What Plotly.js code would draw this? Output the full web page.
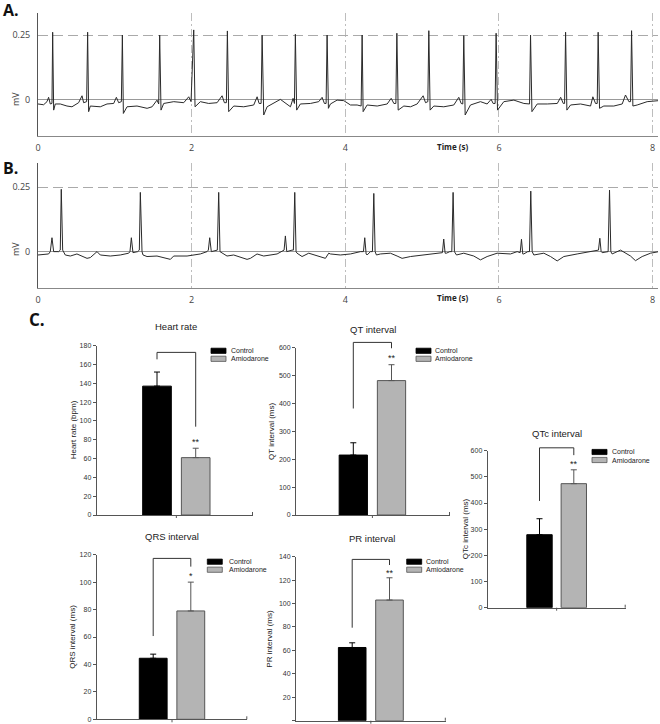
<!DOCTYPE html>
<html><head><meta charset="utf-8">
<script src="https://cdn.plot.ly/plotly-3.0.1.min.js"></script>
<style>html,body{margin:0;padding:0;background:#fff}#chart{width:660px;height:724px}</style>
</head><body><div id="chart"></div>
<script>
// ---------- DATA ----------
// Panel A: control ECG (time in s, voltage in mV)
const ecgA_t = [0.0,0.073,0.117,0.138,0.16,0.182,0.191,0.204,0.225,0.29,
0.377,0.442,0.529,0.573,0.594,0.633,0.646,0.659,0.681,0.811,
0.898,0.985,1.02,1.05,1.085,1.098,1.111,1.159,1.289,1.42,
1.485,1.549,1.571,1.584,1.601,1.636,1.767,1.897,1.962,1.992,
2.027,2.044,2.113,2.222,2.331,2.396,2.426,2.452,2.465,2.482,
2.548,2.678,2.808,2.852,2.878,2.904,2.917,2.938,2.982,3.155,
3.286,3.32,3.338,3.35,3.367,3.415,3.546,3.654,3.698,3.728,
3.75,3.763,3.78,3.806,3.893,3.98,4.067,4.154,4.206,4.219,
4.232,4.284,4.415,4.545,4.597,4.632,4.658,4.671,4.688,4.762,
4.849,4.935,5.013,5.044,5.074,5.087,5.104,5.152,5.282,5.412,
5.477,5.508,5.529,5.542,5.56,5.629,5.759,5.846,5.898,5.924,
5.95,5.963,5.981,6.063,6.194,6.324,6.398,6.411,6.429,6.498,
6.629,6.759,6.803,6.837,6.854,6.867,6.884,6.932,7.062,7.192,
7.222,7.257,7.279,7.291,7.309,7.365,7.495,7.604,7.647,7.691,
7.713,7.726,7.743,7.799,7.929,8.081];
const ecgA_mV = [-0.018,-0.021,-0.009,0.008,-0.018,-0.016,0.262,-0.042,-0.018,-0.018,
-0.026,-0.029,-0.013,0.014,-0.013,-0.009,0.262,-0.048,-0.026,-0.029,
-0.018,-0.016,0.008,-0.013,-0.009,0.251,-0.055,-0.029,-0.026,-0.035,
-0.029,-0.003,-0.018,0.251,-0.042,-0.016,-0.009,-0.013,0.010,-0.009,
0.271,-0.029,-0.009,-0.016,-0.013,0.014,-0.013,-0.013,0.267,-0.048,
-0.026,-0.029,-0.022,0.010,-0.016,-0.016,0.251,-0.061,-0.029,0.0,
-0.029,0.004,-0.016,0.254,-0.042,-0.018,-0.016,-0.009,0.008,-0.016,
-0.016,0.251,-0.035,-0.018,-0.003,-0.005,-0.022,-0.022,-0.026,0.251,
-0.048,-0.022,-0.026,-0.018,0.004,-0.016,-0.016,0.258,-0.042,-0.026,
-0.029,-0.018,0.014,-0.013,-0.009,0.268,-0.042,-0.026,-0.029,-0.022,
0.008,-0.016,-0.018,0.249,-0.061,-0.022,-0.009,-0.018,0.0,-0.016,
-0.016,0.258,-0.042,-0.009,-0.003,-0.016,-0.018,0.251,-0.048,-0.018,
-0.018,-0.016,0.008,-0.016,-0.016,0.262,-0.042,-0.022,-0.018,-0.026,
0.010,-0.016,-0.016,0.262,-0.035,-0.026,-0.026,-0.018,0.017,-0.009,
-0.009,0.268,-0.026,-0.022,-0.009,-0.005];

// Panel B: amiodarone ECG
const ecgB_t = [0.0,0.138,0.16,0.182,0.204,0.269,0.29,0.303,0.321,0.355,
0.421,0.507,0.638,0.681,0.768,0.811,0.941,1.071,1.18,1.197,
1.215,1.236,1.297,1.319,1.332,1.354,1.367,1.419,1.549,1.679,
1.723,1.766,1.94,2.113,2.2,2.217,2.235,2.256,2.308,2.334,
2.352,2.369,2.46,2.547,2.721,2.765,2.851,2.938,3.112,3.19,
3.203,3.22,3.238,3.307,3.324,3.342,3.359,3.372,3.437,3.524,
3.633,3.741,3.784,3.806,3.936,4.067,4.197,4.236,4.253,4.271,
4.284,4.327,4.353,4.371,4.388,4.405,4.457,4.587,4.674,4.739,
4.848,5.021,5.195,5.264,5.281,5.299,5.316,5.36,5.386,5.403,
5.42,5.447,5.542,5.672,5.759,5.846,5.976,6.15,6.237,6.276,
6.293,6.31,6.323,6.375,6.397,6.414,6.432,6.454,6.584,6.671,
6.758,6.844,7.018,7.191,7.278,7.295,7.313,7.33,7.343,7.4,
7.421,7.439,7.456,7.473,7.582,7.712,7.777,7.864,7.973,8.081];
const ecgB_mV = [-0.013,-0.009,0.0,0.054,0.0,0.0,0.006,0.242,0.006,-0.013,
-0.017,-0.009,-0.026,-0.023,0.0,-0.013,-0.017,-0.013,-0.006,0.0,
0.054,-0.004,0.0,0.006,0.23,0.0,-0.013,-0.019,-0.017,-0.026,
-0.03,-0.017,-0.017,-0.009,0.0,0.006,0.054,0.0,0.006,0.006,
0.23,0.0,-0.017,-0.013,-0.03,-0.026,-0.009,-0.017,-0.009,0.006,
0.006,0.061,0.0,0.006,0.006,0.23,0.0,-0.006,-0.019,-0.006,
-0.017,-0.026,-0.006,-0.009,-0.013,-0.009,0.0,0.0,0.054,-0.009,
-0.013,0.0,0.0,0.226,0.0,-0.013,-0.009,-0.006,-0.017,-0.026,
-0.019,-0.013,-0.006,-0.004,0.049,-0.006,-0.006,0.0,0.0,0.23,
0.0,-0.013,-0.006,-0.017,-0.032,-0.019,-0.006,-0.009,0.0,-0.004,
0.048,-0.009,-0.009,0.0,0.0,0.235,0.0,-0.013,-0.006,-0.019,
-0.036,-0.019,-0.009,0.0,0.006,0.006,0.052,0.0,-0.004,0.0,
0.0,0.239,0.0,-0.009,0.006,-0.017,-0.035,-0.019,-0.006,0.0];

const ecgTicks = [0, 2, 4, 6, 8];
const mvTicks = [0, 0.25];
const mvTickText = ['0', '0.25'];

// Panel C: group means and SD
const groups = ['Control', 'Amiodarone'];
const hr_mean = [137, 61];   const hr_sd = [15, 10];
const qt_mean = [215, 482];  const qt_sd = [44, 57];
const qtc_mean = [279, 474]; const qtc_sd = [61, 53];
const qrs_mean = [44.5, 79]; const qrs_sd = [3, 21];
const pr_mean = [62.5, 103]; const pr_sd = [4, 19];
const sig_labels = ['**', '**', '**', '*', '**'];

// ---------- LAYOUT HELPERS ----------
if (ecgA_t.length !== ecgA_mV.length) console.error('A length', ecgA_t.length, ecgA_mV.length);
if (ecgB_t.length !== ecgB_mV.length) console.error('B length', ecgB_t.length, ecgB_mV.length);

const W = 660, H = 724;
const fx = px => px / W;
const fy = py => 1 - py / H;
const FONT = 'Liberation Sans, Arial, sans-serif';
const FONT2 = 'Open Sans, Liberation Sans, sans-serif';

const data = [];
const layout = {
  width: W, height: H, margin: {l: 0, r: 0, t: 0, b: 0},
  paper_bgcolor: '#fff', plot_bgcolor: 'rgba(0,0,0,0)',
  showlegend: false, barmode: 'overlay',
  font: {family: FONT, color: '#333'},
  shapes: [], annotations: []
};

// ---------- ECG PANELS ----------
const ecgPanels = [
  {label: 'A.', t: ecgA_t, v: ecgA_mV, id: '', top: 13, bottom: 136, yr: [-0.143, 0.337], labelY: 10, mvY: 99, timeY: 146.5},
  {label: 'B.', t: ecgB_t, v: ecgB_mV, id: '2', top: 163.3, bottom: 287.7, yr: [-0.14, 0.343], labelY: 168, mvY: 249, timeY: 297.5}
];
ecgPanels.forEach(p => {
  data.push({type: 'scatter', mode: 'lines', x: p.t, y: p.v,
    xaxis: 'x' + p.id, yaxis: 'y' + p.id,
    line: {color: '#2a2a2a', width: 1}, hoverinfo: 'skip'});
  layout['xaxis' + p.id] = {
    domain: [fx(38), fx(658)], range: [0, 8.07], anchor: 'y' + p.id,
    tickmode: 'array', tickvals: ecgTicks, ticks: '', ticklabelstandoff: 3,
    tickfont: {family: FONT2, size: 9, color: '#444'},
    showgrid: true, gridcolor: '#bdbdbd', gridwidth: 1, griddash: '8px,3px,2px,3px',
    showline: true, linecolor: '#888', linewidth: 1, zeroline: false
  };
  layout['yaxis' + p.id] = {
    domain: [fy(p.bottom), fy(p.top)], range: p.yr, anchor: 'x' + p.id,
    tickmode: 'array', tickvals: mvTicks, ticktext: mvTickText, ticks: '', ticklabelstandoff: 5,
    tickfont: {family: FONT2, size: 9, color: '#444'},
    showgrid: true, gridcolor: '#aaaaaa', gridwidth: 1.5, griddash: '10px,5px',
    zeroline: true, zerolinecolor: '#999', zerolinewidth: 1.5,
    showline: true, linecolor: '#555', linewidth: 1
  };
  layout.annotations.push(
    {text: '<b>' + p.label + '</b>', xref: 'paper', yref: 'paper', x: fx(1), y: fy(p.labelY),
     xanchor: 'left', yanchor: 'middle', showarrow: false, font: {family: FONT2, size: 16, color: '#111'}},
    {text: 'mV', xref: 'paper', yref: 'paper', x: fx(15), y: fy(p.mvY), textangle: -90,
     xanchor: 'center', yanchor: 'middle', showarrow: false, font: {family: FONT2, size: 9, color: '#333'}},
    {text: '<b>Time (s)</b>', xref: 'paper', yref: 'paper', x: fx(452), y: fy(p.timeY),
     xanchor: 'center', yanchor: 'middle', showarrow: false, font: {family: FONT2, size: 8, color: '#222'}}
  );
});
layout.annotations.push({text: '<b>C.</b>', xref: 'paper', yref: 'paper', x: fx(27), y: fy(319),
  xanchor: 'left', yanchor: 'middle', showarrow: false, font: {family: FONT2, size: 17, color: '#111'}});

// ---------- BAR PANELS ----------
const barPanels = [
  {mean: hr_mean, sd: hr_sd, title: 'Heart rate', ytitle: 'Heart rate (bpm)', ymax: 180, dtick: 20,
   L: 96.7, R: 253, c0: 157, s: 38.7, y0: 515, y1: 345.7, tx: 176, ty: 326.7, ytx: 73,
   legX: 211, legY: [350.8, 358.8], legTX: 229, br: [172.9, 165.5, 93.9], star: 78},
  {mean: qt_mean, sd: qt_sd, title: 'QT interval', ytitle: 'QT interval (ms)', ymax: 600, dtick: 100,
   L: 296, R: 450, c0: 353.3, s: 38.2, y0: 515, y1: 347.7, tx: 372.7, ty: 329, ytx: 271.7,
   legX: 416, legY: [350.8, 358.8], legTX: 433, br: [619, 382, 598], star: 564},
  {mean: qtc_mean, sd: qtc_sd, title: 'QTc interval', ytitle: 'QTc interval (ms)', ymax: 600, dtick: 100,
   L: 487.7, R: 625.7, c0: 539.5, s: 34.3, y0: 607.7, y1: 450.7, tx: 556.7, ty: 433, ytx: 465,
   legX: 592, legY: [452, 460], legTX: 610, br: [611, 408, 583], star: 550},
  {mean: qrs_mean, sd: qrs_sd, title: 'QRS interval', ytitle: 'QRS interval (ms)', ymax: 120, dtick: 20,
   L: 96.7, R: 247.3, c0: 153.2, s: 37.6, y0: 719.3, y1: 554.7, tx: 171.7, ty: 536, ytx: 71.7,
   legX: 207.3, legY: [561.7, 569.7], legTX: 227.3, br: [117.3, 60.7, 111.3], star: 104.5},
  {mean: pr_mean, sd: pr_sd, title: 'PR interval', ytitle: 'PR interval (ms)', ymax: 140, dtick: 20,
   L: 296, R: 445.8, c0: 352.2, s: 37.3, y0: 720.7, y1: 556.7, tx: 371.7, ty: 538.3, ytx: 270,
   legX: 406.7, legY: [561.7, 569.7], legTX: 424, br: [137.7, 79.4, 132.9], star: 126.5}
];
const barFill = ['#000000', '#b4b4b4'];
const barLine = ['#000000', '#555555'];
const errCol = ['#000000', '#555555'];

barPanels.forEach((p, k) => {
  const n = String(k + 3);
  const xa = 'x' + n, ya = 'y' + n;
  for (let i = 0; i < 2; i++) {
    data.push({type: 'bar', x: [groups[i]], y: [p.mean[i]], width: [0.74],
      xaxis: xa, yaxis: ya, hoverinfo: 'skip',
      marker: {color: barFill[i], line: {color: barLine[i], width: 1}},
      error_y: {type: 'data', symmetric: false, array: [p.sd[i]], arrayminus: [0],
        color: errCol[i], thickness: 1, width: 3}});
  }
  layout['xaxis' + n] = {
    domain: [fx(p.L), fx(p.R)], anchor: ya, type: 'category',
    categoryorder: 'array', categoryarray: groups,
    range: [-(p.c0 - p.L) / p.s, (p.R - p.c0) / p.s],
    showticklabels: false, ticks: '', showgrid: false, zeroline: false,
    showline: true, linecolor: '#555', linewidth: 1
  };
  layout['yaxis' + n] = {
    domain: [fy(p.y0), fy(p.y1)], anchor: xa, range: [0, p.ymax],
    tick0: 0, dtick: p.dtick, ticks: 'outside', ticklen: 3, tickcolor: '#555', tickwidth: 1,
    tickfont: {family: FONT, size: 7, color: '#333'},
    showgrid: false, zeroline: false, showline: true, linecolor: '#555', linewidth: 1
  };
  const vy = v => fy(p.y0 - (p.y0 - p.y1) * v / p.ymax);
  const ln = {color: '#333', width: 1};
  // significance bracket (category index 0 -> 1)
  layout.shapes.push(
    {type: 'line', xref: xa, yref: 'paper', x0: 0, x1: 0, y0: vy(p.br[1]), y1: vy(p.br[0]), line: ln},
    {type: 'line', xref: xa, yref: 'paper', x0: 0, x1: 1, y0: vy(p.br[0]), y1: vy(p.br[0]), line: ln},
    {type: 'line', xref: xa, yref: 'paper', x0: 1, x1: 1, y0: vy(p.br[0]), y1: vy(p.br[2]), line: ln},
    // centre tick on x axis and end tick
    {type: 'line', xref: xa, yref: 'paper', x0: 0.5, x1: 0.5, y0: fy(p.y0), y1: fy(p.y0 + 3), line: {color: '#555', width: 1}},
    {type: 'line', xref: 'paper', yref: 'paper', x0: fx(p.R - 0.5), x1: fx(p.R - 0.5), y0: fy(p.y0), y1: fy(p.y0 - 3), line: {color: '#555', width: 1}}
  );
  // legend boxes
  for (let i = 0; i < 2; i++) {
    layout.shapes.push({type: 'rect', xref: 'paper', yref: 'paper',
      x0: fx(p.legX), x1: fx(p.legX + 15), y0: fy(p.legY[i] + 2.6), y1: fy(p.legY[i] - 2.6),
      fillcolor: barFill[i], line: {color: barLine[i], width: 0.8}});
    layout.annotations.push({text: groups[i], xref: 'paper', yref: 'paper',
      x: fx(p.legTX), y: fy(p.legY[i]), xanchor: 'left', yanchor: 'middle', showarrow: false,
      font: {family: FONT, size: 7, color: '#222'}});
  }
  layout.annotations.push(
    {text: p.title, xref: 'paper', yref: 'paper', x: fx(p.tx), y: fy(p.ty), xanchor: 'center', yanchor: 'middle',
     showarrow: false, font: {family: FONT, size: 9.5, color: '#222'}},
    {text: p.ytitle, xref: 'paper', yref: 'paper', x: fx(p.ytx), y: fy((p.y0 + p.y1) / 2), textangle: -90,
     xanchor: 'center', yanchor: 'middle', showarrow: false, font: {family: FONT, size: 8, color: '#222'}},
    {text: sig_labels[k], xref: xa, yref: ya, x: 1, y: p.star, xanchor: 'center', yanchor: 'middle',
     showarrow: false, font: {family: FONT, size: 9, color: '#222'}}
  );
});

Plotly.newPlot('chart', data, layout, {displayModeBar: false, staticPlot: true});
</script>
</body></html>
